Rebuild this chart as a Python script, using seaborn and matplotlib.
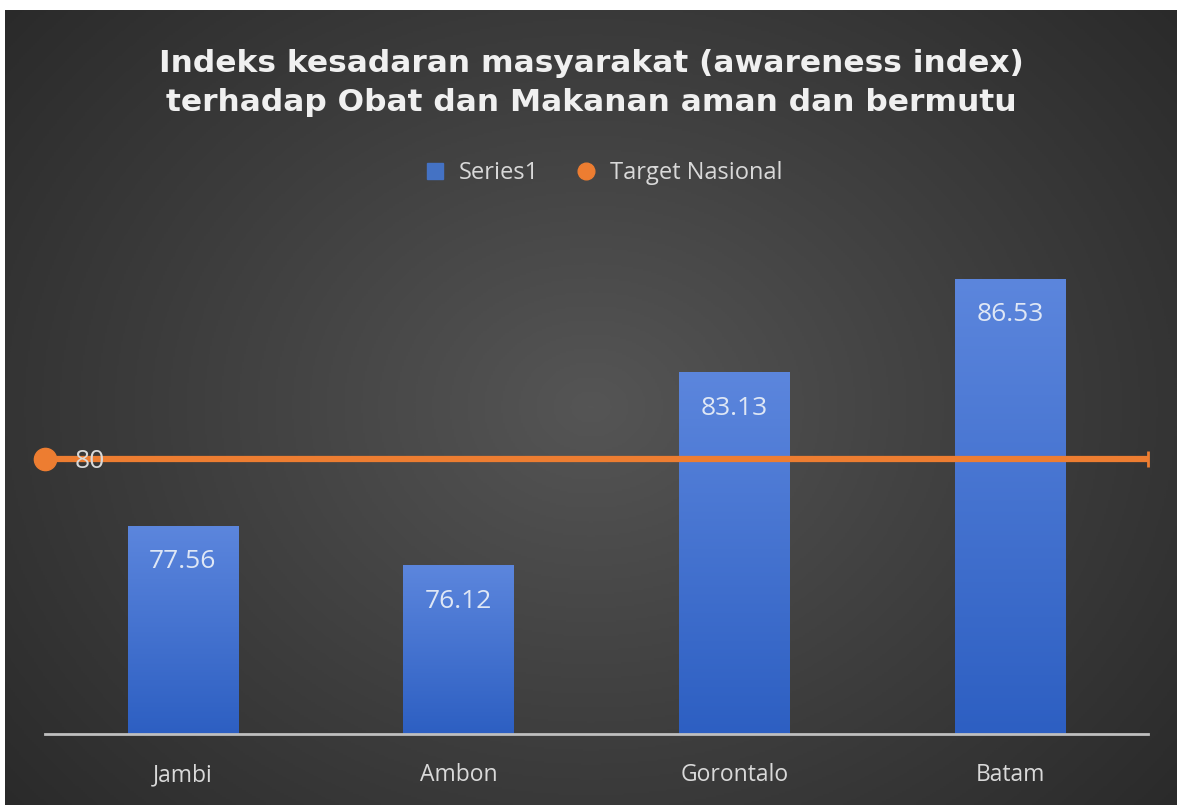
import numpy as np
import pandas as pd
import seaborn as sns
import matplotlib.pyplot as plt
from matplotlib.colors import LinearSegmentedColormap
from matplotlib.lines import Line2D

# Data
kota = ["Jambi", "Ambon", "Gorontalo", "Batam"]
indeks = [77.56, 76.12, 83.13, 86.53]
target = 80
judul = "Indeks kesadaran masyarakat (awareness index)\nterhadap Obat dan Makanan aman dan bermutu"

df = pd.DataFrame({"Kota": kota, "Indeks": indeks})

sns.set_theme(style="dark")
plt.rcParams["font.family"] = ["Open Sans", "DejaVu Sans"]

fig = plt.figure(figsize=(11.82, 8.05), dpi=100, facecolor="white")

# Dark radial background
bg = fig.add_axes([5 / 1182, 0, 1172 / 1182, 795 / 805])
yy, xx = np.mgrid[0:1:400j, 0:1:600j]
r = np.sqrt(((xx - 0.5) / 0.75) ** 2 + ((yy - 0.5) / 0.9) ** 2)
bg_cmap = LinearSegmentedColormap.from_list("bg", ["#555555", "#3c3c3c", "#242424"])
bg.imshow(np.clip(r, 0, 1), cmap=bg_cmap, aspect="auto", extent=[0, 1, 0, 1], vmin=0, vmax=1)
bg.set_axis_off()

# Main axes
ax = fig.add_axes([45 / 1182, (805 - 734) / 805, 1103 / 1182, 551 / 805])
ax.patch.set_alpha(0)
sns.barplot(data=df, x="Kota", y="Indeks", color="#4472c4", width=0.4, ax=ax, zorder=2)
ax.set_ylim(70, 90)
ax.set_xlim(-0.5, len(kota) - 0.5)

# Gradient fill for bars
bar_cmap = LinearSegmentedColormap.from_list("bar", ["#2d5fc2", "#5c86dd"])
grad = np.linspace(0, 1, 256).reshape(-1, 1)
for bar in ax.patches:
    x0, y0 = bar.get_x(), bar.get_y()
    w, h = bar.get_width(), bar.get_height()
    bar.set_facecolor("none")
    bar.set_edgecolor("none")
    im = ax.imshow(grad, cmap=bar_cmap, aspect="auto", origin="lower",
                   extent=[x0, x0 + w, 70, y0 + h], zorder=2)
    im.set_clip_path(bar)

# Data labels inside bars
for i, v in enumerate(indeks):
    ax.annotate(f"{v:.2f}", (i, v), xytext=(0, -35), textcoords="offset points",
                ha="center", va="bottom", fontsize=19, color="#dfe7f5", zorder=4)

# Target line
xs = [-0.5, len(kota) - 0.5]
ax.plot(xs, [target, target], color="#ed7d31", lw=4.5, zorder=3, solid_capstyle="butt")
ax.plot(xs[0], target, "o", color="#ed7d31", ms=16, zorder=4, clip_on=False)
ax.plot(xs[1], target, "|", color="#ed7d31", ms=12, mew=2, zorder=4, clip_on=False)
ax.annotate(f"{target}", (xs[0], target), xytext=(21, -2), textcoords="offset points",
            ha="left", va="center", fontsize=19, color="#d9d9d9", zorder=5)

# Axes styling
for s in ["top", "right", "left"]:
    ax.spines[s].set_visible(False)
ax.spines["bottom"].set_color("#bfbfbf")
ax.spines["bottom"].set_linewidth(2)
ax.spines["bottom"].set_zorder(5)
ax.set_yticks([])
ax.set_xlabel("")
ax.set_ylabel("")
ax.tick_params(axis="x", length=0, pad=21, labelsize=16.5, labelcolor="#d9d9d9")
ax.grid(False)

# Title
fig.text(0.5, 1 - 83 / 805, judul, ha="center", va="center", fontsize=22.5,
         fontweight="bold", color="#f0f0f0", linespacing=1.4,
         family=["DejaVu Sans"])

# Legend
handles = [
    Line2D([], [], marker="s", ls="none", color="#4472c4", ms=11),
    Line2D([], [], marker="o", ls="none", color="#ed7d31", ms=12),
]
fig.legend(handles, ["Series1", "Target Nasional"], loc="center",
           bbox_to_anchor=(0.505, 1 - 173 / 805), ncol=2, frameon=False,
           fontsize=17, labelcolor="#d9d9d9", handletextpad=0.0, columnspacing=1.0)

fig.savefig("out.png", dpi=100, facecolor="white")
